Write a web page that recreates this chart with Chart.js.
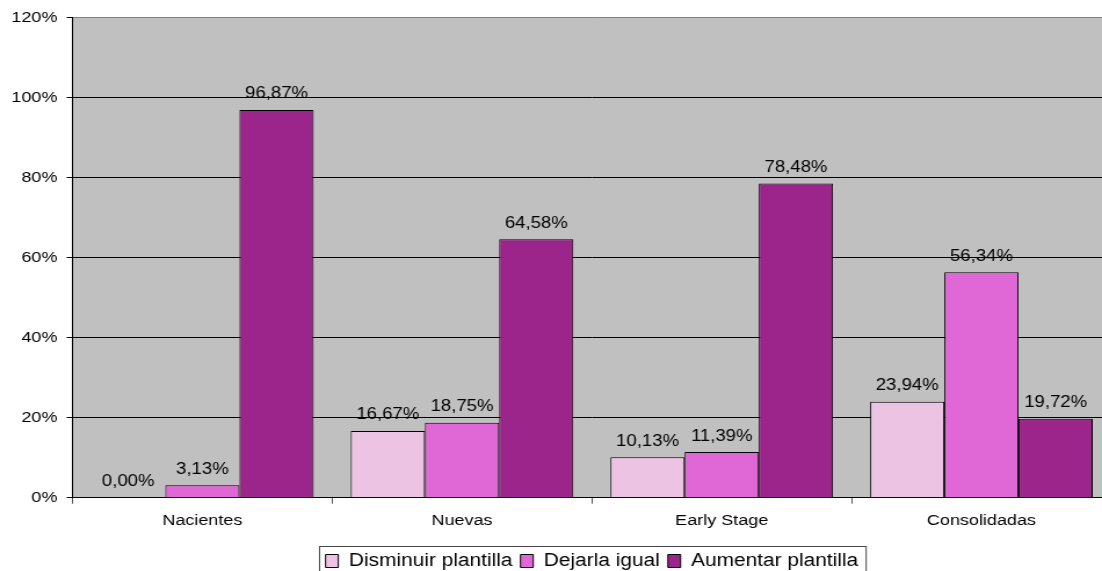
<!DOCTYPE html>
<html>
<head>
<meta charset="utf-8">
<script src="https://cdn.jsdelivr.net/npm/chart.js@4.4.1/dist/chart.umd.min.js"></script>
<style>
  html, body { margin: 0; padding: 0; background: #fff; overflow: hidden; }
  #clip { width: 1102px; height: 571px; overflow: hidden; position: relative; }
  /* the original picture is stretched sideways, so the chart is drawn narrower and scaled */
  #wrap { position: absolute; left: 0; top: 0; width: 958px; height: 580px;
          transform: scaleX(1.16); transform-origin: 0 0; }
</style>
</head>
<body>
<div id="clip"><div id="wrap"><canvas id="myChart"></canvas></div></div>
<script>
var categories = ['Nacientes', 'Nuevas', 'Early Stage', 'Consolidadas'];
var seriesNames = ['Disminuir plantilla', 'Dejarla igual', 'Aumentar plantilla'];
var disminuir = [0.00, 16.67, 10.13, 23.94];
var dejarla = [3.13, 18.75, 11.39, 56.34];
var aumentar = [96.87, 64.58, 78.48, 19.72];
var yTicks = [0, 20, 40, 60, 80, 100, 120];

var colors = ['#EDC3E3', '#E067D6', '#9B258B'];
var font = 'Liberation Sans, Arial, sans-serif';

Chart.defaults.font.family = font;
Chart.defaults.color = '#000';

function fmt(v) {
    return v.toFixed(2).replace('.', ',') + '%';
}

// gray plot background
var plotBg = {
    id: 'plotBg',
    beforeDraw: function(chart) {
        var a = chart.chartArea, ctx = chart.ctx;
        ctx.save();
        ctx.fillStyle = '#C0C0C0';
        ctx.fillRect(a.left, a.top, a.right - a.left, a.bottom - a.top);
        ctx.restore();
    }
};

// value labels above each bar
var valueLabels = {
    id: 'valueLabels',
    afterDatasetsDraw: function(chart) {
        var ctx = chart.ctx;
        ctx.save();
        ctx.font = '16px ' + font;
        ctx.fillStyle = '#000';
        ctx.textAlign = 'center';
        ctx.textBaseline = 'middle';
        chart.data.datasets.forEach(function(ds, i) {
            chart.getDatasetMeta(i).data.forEach(function(bar, j) {
                ctx.fillText(fmt(ds.data[j]), bar.x, bar.y - 16);
            });
        });
        ctx.restore();
    }
};

// frame round the legend
var legendBox = {
    id: 'legendBox',
    afterDraw: function(chart) {
        var boxes = chart.legend && chart.legend.legendHitBoxes;
        if (!boxes || !boxes.length) return;
        var left = boxes[0].left, right = 0, top = boxes[0].top;
        boxes.forEach(function(b) {
            left = Math.min(left, b.left);
            right = Math.max(right, b.left + b.width);
        });
        var ctx = chart.ctx;
        ctx.save();
        ctx.strokeStyle = '#444';
        ctx.lineWidth = 1;
        ctx.strokeRect(Math.round(left - 6) + 0.5, Math.round(top - 6.5) + 0.5, right - left + 12, 60);
        ctx.restore();
    }
};

var ctx = document.getElementById('myChart').getContext('2d');
var myChart = new Chart(ctx, {
    type: 'bar',
    data: {
        labels: categories,
        datasets: [
            { label: seriesNames[0], data: disminuir, backgroundColor: colors[0] },
            { label: seriesNames[1], data: dejarla, backgroundColor: colors[1] },
            { label: seriesNames[2], data: aumentar, backgroundColor: colors[2] }
        ]
    },
    options: {
        responsive: true,
        maintainAspectRatio: false,
        animation: false,
        layout: { padding: { top: 14.3, left: 0, right: 0, bottom: 0 } },
        datasets: {
            bar: {
                categoryPercentage: 6 / 7,
                barPercentage: 1,
                borderColor: '#000',
                borderWidth: 1
            }
        },
        scales: {
            x: {
                grid: { offset: true, drawOnChartArea: false, tickLength: 6, color: '#555' },
                border: { color: '#000', width: 1 },
                ticks: { padding: 8, font: { size: 15.5 }, color: '#000' },
                afterFit: function(s) { s.height = 47.3; }
            },
            y: {
                min: yTicks[0],
                max: yTicks[yTicks.length - 1],
                ticks: {
                    stepSize: yTicks[1] - yTicks[0],
                    padding: 8,
                    font: { size: 15.5 },
                    color: '#000',
                    callback: function(v) { return v + '%'; }
                },
                grid: {
                    color: function(c) { return c.tick && c.tick.value === yTicks[yTicks.length - 1] ? '#808080' : '#000'; },
                    tickColor: '#000',
                    tickLength: 5
                },
                border: { color: '#000', width: 1 },
                afterFit: function(s) { s.width = 62.5; }
            }
        },
        plugins: {
            legend: {
                position: 'bottom',
                fullSize: false,
                labels: {
                    boxWidth: 11,
                    boxHeight: 13,
                    padding: 7,
                    color: '#000',
                    font: { size: 18 }
                }
            },
            tooltip: { enabled: false }
        }
    },
    plugins: [plotBg, valueLabels, legendBox]
});
</script>
</body>
</html>
